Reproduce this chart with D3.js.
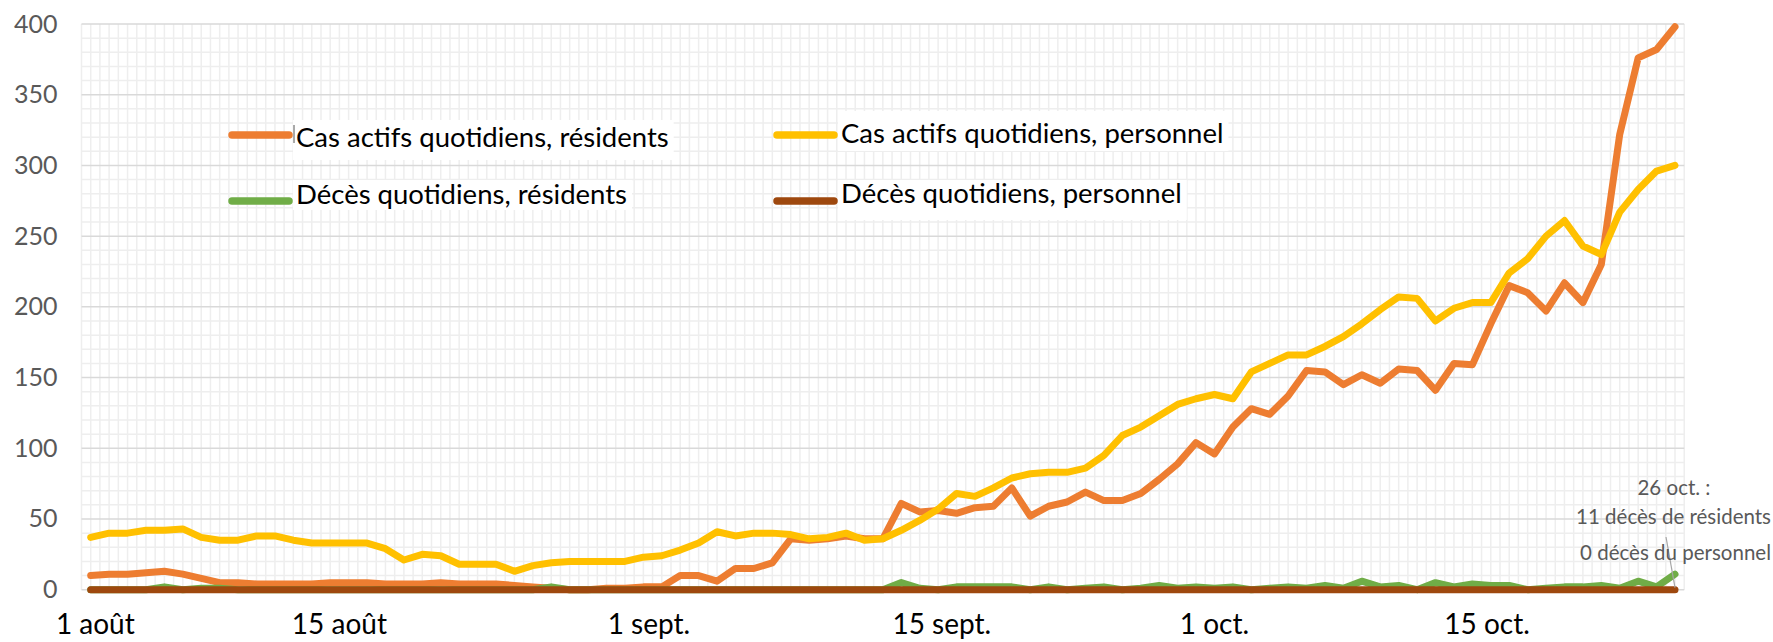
<!DOCTYPE html>
<html>
<head>
<meta charset="utf-8">
<title>Cas et décès quotidiens</title>
<style>
  body { margin: 0; background: #fff; }
  svg { display: block; font-family: Lato, "Open Sans", sans-serif; }
</style>
<script src="https://d3js.org/d3.v7.min.js"></script>
</head>
<body>
<svg width="1773" height="642"></svg>
<script>
// daily values, 1 août -> 26 oct.
var casResidents = [10, 11, 11, 12, 13, 11, 8, 5, 5, 4, 4, 4, 4, 5, 5, 5, 4, 4, 4, 5, 4,
  4, 4, 3, 2, 1, 0, 0, 1, 1, 2, 2,
  10, 10, 6, 15, 15, 19, 36, 35, 36, 38, 36, 36,
  61, 55, 56, 54, 58, 59, 72, 52, 59, 62, 69, 63, 63, 68, 78, 89, 104,
  96, 115, 128, 124, 137, 155, 154, 145, 152, 146, 156, 155, 141, 160, 159, 188, 215, 210, 197, 217, 203, 230, 322, 376, 382, 398];

var casPersonnel = [37, 40, 40, 42, 42, 43, 37, 35, 35, 38, 38, 35, 33, 33, 33, 33, 29, 21, 25, 24, 18,
  18, 18, 13, 17, 19, 20, 20, 20, 20, 23, 24,
  28, 33, 41, 38, 40, 40, 39, 36, 37,
  40, 35, 36, 42, 49, 57, 68, 66, 72, 79, 82, 83, 83, 86, 95, 109, 115, 123, 131, 135,
  138, 135, 154, 160, 166, 166, 172, 179, 188, 198, 207, 206, 190, 199, 203, 203, 224, 234, 250, 261, 243, 237, 267, 283, 296, 300];

var decesResidents = [0, 0, 0, 0, 2, 0, 1, 1, 0, 0, 0,
  0, 0, 0, 0, 0, 0, 0, 0, 0, 0, 0,
  0, 0, 0, 2, 0, 0, 0, 0, 0, 0, 0,
  0, 0, 0, 0, 0, 0, 0, 0, 0, 0, 0,
  5, 1, 0, 2, 2, 2, 2, 0, 2, 0, 1,
  2, 0, 1, 3, 1, 2, 1, 2, 0, 1, 2,
  1, 3, 1, 6, 2, 3, 0, 5, 2, 4, 3,
  3, 0, 1, 2, 2, 3, 1, 6, 2, 11];

var decesPersonnel = [0, 0, 0, 0, 0, 0, 0, 0, 0, 0, 0,
  0, 0, 0, 0, 0, 0, 0, 0, 0, 0, 0,
  0, 0, 0, 0, 0, 0, 0, 0, 0, 0, 0,
  0, 0, 0, 0, 0, 0, 0, 0, 0, 0, 0,
  0, 0, 0, 0, 0, 0, 0, 0, 0, 0, 0,
  0, 0, 0, 0, 0, 0, 0, 0, 0, 0, 0,
  0, 0, 0, 0, 0, 0, 0, 0, 0, 0, 0,
  0, 0, 0, 0, 0, 0, 0, 0, 0, 0];

var seriesNames = ["Cas actifs quotidiens, résidents", "Cas actifs quotidiens, personnel",
                   "Décès quotidiens, résidents", "Décès quotidiens, personnel"];
var colors = ["#ED7D31", "#FFC000", "#70AD47", "#9E480E"];

// x labels and where they sit (in days from 1 août)
var xLabels = ["1 août", "15 août", "1 sept.", "15 sept.", "1 oct.", "15 oct."];
var xLabelAt = [0.25, 13.5, 30.3, 46.2, 61, 75.8];
var yTicks = [0, 50, 100, 150, 200, 250, 300, 350, 400];

var annotation = ["26 oct. :", "11 décès de résidents", "0 décès du personnel"];

var svg = d3.select("svg");
var n = casResidents.length;

var x = d3.scaleLinear().domain([0, n - 1]).range([90.7, 1675]);
var y = d3.scaleLinear().domain([0, 400]).range([589.7, 24]);

var left = x(-0.5), right = x(n - 0.5);

svg.append("rect").attr("width", 1773).attr("height", 642).attr("fill", "#fff");

// grid
var grid = svg.append("g");
grid.selectAll(".vg")
    .data(d3.range(-0.5, n, 0.5))
    .enter().append("line")
    .attr("x1", function(d) { return x(d); })
    .attr("x2", function(d) { return x(d); })
    .attr("y1", y(400)).attr("y2", y(0))
    .attr("stroke", "#eeeeee")
    .attr("stroke-width", 1.5);

grid.selectAll(".hg")
    .data(d3.range(0, 401, 10).filter(function(d) { return d % 50 != 0; }))
    .enter().append("line")
    .attr("x1", left).attr("x2", right)
    .attr("y1", function(d) { return y(d); })
    .attr("y2", function(d) { return y(d); })
    .attr("stroke", "#eeeeee")
    .attr("stroke-width", 1.5);

grid.selectAll(".hmaj")
    .data(yTicks)
    .enter().append("line")
    .attr("x1", left).attr("x2", right)
    .attr("y1", function(d) { return y(d); })
    .attr("y2", function(d) { return y(d); })
    .attr("stroke", "#d9d9d9")
    .attr("stroke-width", 1.5);

// y axis
var yAxis = svg.append("g")
    .attr("transform", "translate(" + left + ",0)")
    .call(d3.axisLeft(y).tickValues(yTicks).tickSize(0).tickPadding(24));
yAxis.select(".domain").remove();
yAxis.selectAll("text")
    .attr("font-family", "Lato, sans-serif")
    .attr("font-size", 25)
    .attr("fill", "#595959");

// x labels
svg.append("g").selectAll("text")
    .data(xLabels)
    .enter().append("text")
    .attr("x", function(d, i) { return x(xLabelAt[i]); })
    .attr("y", 634)
    .attr("text-anchor", "middle")
    .attr("font-size", 28)
    .attr("fill", "#000")
    .text(function(d) { return d; });

// legend
var legendX = [232, 777], legendY = [135, 201];
var legendBaseline = [[147, 204], [143, 203]];
var legendBgY = [[120, 40], [180, 30], [111, 40], [180, 40]];
var leg = svg.append("g");
seriesNames.forEach(function(name, k) {
    var col = k % 2, row = Math.floor(k / 2);
    var bg = leg.append("rect").attr("fill", "#fff");
    leg.append("line")
        .attr("x1", legendX[col]).attr("x2", legendX[col] + 57)
        .attr("y1", legendY[row]).attr("y2", legendY[row])
        .attr("stroke", colors[k]).attr("stroke-width", 7.5)
        .attr("stroke-linecap", "round");
    var t = leg.append("text")
        .attr("x", legendX[col] + 64)
        .attr("y", legendBaseline[col][row])
        .attr("font-size", 27.5)
        .attr("fill", "#000")
        .text(name);
    var bb = t.node().getBBox();
    var by = legendBgY[col * 2 + row];
    bg.attr("x", bb.x - 3).attr("width", bb.width + 8)
      .attr("y", by[0]).attr("height", by[1]);
});
leg.append("line").attr("x1", 294).attr("x2", 294).attr("y1", 125).attr("y2", 143)
    .attr("stroke", "#555").attr("stroke-width", 1);

// series
var line = d3.line()
    .x(function(d, i) { return x(i); })
    .y(function(d) { return y(d); });

[casResidents, casPersonnel, decesResidents, decesPersonnel].forEach(function(s, k) {
    svg.append("path")
        .datum(s)
        .attr("d", line)
        .attr("fill", "none")
        .attr("stroke", colors[k])
        .attr("stroke-width", 7)
        .attr("stroke-linejoin", "round")
        .attr("stroke-linecap", "round");
});

// annotation
svg.append("line")
    .attr("x1", 1666).attr("y1", 537)
    .attr("x2", x(n - 1)).attr("y2", y(0) - 2)
    .attr("stroke", "#a6a6a6").attr("stroke-width", 1.2);

var annY = [495, 524, 560];
svg.append("g").selectAll("text")
    .data(annotation)
    .enter().append("text")
    .attr("x", function(d, i) { return i == 0 ? 1674 : 1771; })
    .attr("y", function(d, i) { return annY[i]; })
    .attr("text-anchor", function(d, i) { return i == 0 ? "middle" : "end"; })
    .attr("font-size", 20.5)
    .attr("fill", "#595959")
    .text(function(d) { return d; });
</script>
</body>
</html>
